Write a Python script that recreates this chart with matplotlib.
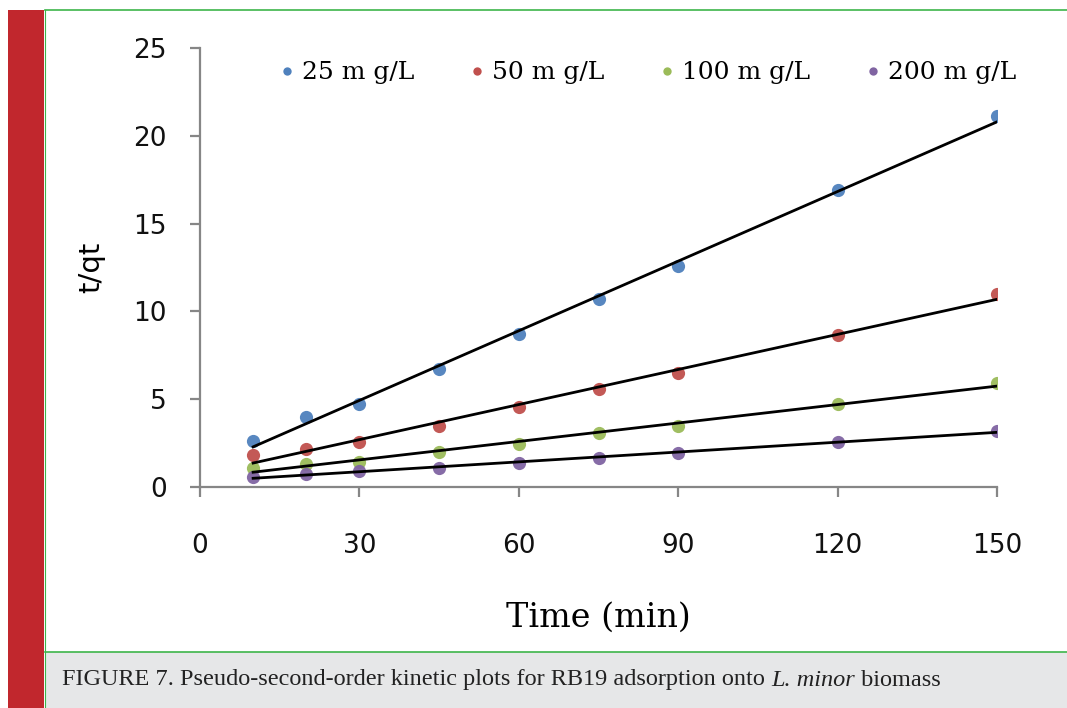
import matplotlib.pyplot as plt
import numpy as np
from matplotlib.patches import Rectangle
from matplotlib.lines import Line2D

# contact time (min)
time_min = [10, 20, 30, 45, 60, 75, 90, 120, 150]

# t/qt values
tq_25 = [2.6, 4.0, 4.7, 6.7, 8.7, 10.7, 12.6, 16.9, 21.1]
tq_50 = [1.8, 2.15, 2.55, 3.45, 4.55, 5.6, 6.5, 8.65, 11.0]
tq_100 = [1.1, 1.3, 1.4, 2.0, 2.45, 3.05, 3.5, 4.75, 5.9]
tq_200 = [0.55, 0.75, 0.9, 1.1, 1.35, 1.65, 1.95, 2.55, 3.2]

labels = ['25 m g/L', '50 m g/L', '100 m g/L', '200 m g/L']
colors = ['#4F81BD', '#C0504D', '#9BBB59', '#8064A2']
x_ticks = [0, 30, 60, 90, 120, 150]
y_ticks = [0, 5, 10, 15, 20, 25]

W, H = 1067, 708
fig = plt.figure(figsize=(W / 100, H / 100), dpi=100, facecolor='white')

# page decorations: red side bar, green rule, grey caption box
fig.patches.append(Rectangle((8 / W, 0), 36 / W, 1 - 10 / H, transform=fig.transFigure,
                             facecolor='#C1272D', edgecolor='none', zorder=0))
fig.add_artist(Line2D([45 / W, 1], [1 - 10 / H, 1 - 10 / H], transform=fig.transFigure,
                      color='#3DB54A', lw=1.2))
fig.add_artist(Line2D([45 / W, 45 / W], [0, 1 - 10 / H], transform=fig.transFigure,
                      color='#3DB54A', lw=0.8))
fig.patches.append(Rectangle((45 / W, 0), 1 - 45 / W, 56 / H, transform=fig.transFigure,
                             facecolor='#E6E7E8', edgecolor='none', zorder=0))
fig.add_artist(Line2D([45 / W, 1], [56 / H, 56 / H], transform=fig.transFigure,
                      color='#3DB54A', lw=1.2))

ax = fig.add_axes([200 / W, 1 - 487 / H, 797 / W, 439 / H])
ax.set_facecolor('none')

series = [tq_25, tq_50, tq_100, tq_200]
xs = np.array(time_min, dtype=float)
handles = []
for ys, c, lab in zip(series, colors, labels):
    ax.plot(xs, ys, 'o', color=c, ms=9.5, mec='none', alpha=0.95, zorder=2)
    # linear trendline as in the original spreadsheet chart
    k, b = np.polyfit(xs, ys, 1)
    xl = np.array([xs[0], xs[-1]])
    ax.plot(xl, k * xl + b, color='black', lw=2.0, zorder=3)
    handles.append(Line2D([], [], marker='o', ls='none', color=c, ms=6, mec='none', label=lab))

ax.set_xlim(0, 150)
ax.set_ylim(0, 25)
ax.set_xticks(x_ticks)
ax.set_yticks(y_ticks)

for s in ['top', 'right']:
    ax.spines[s].set_visible(False)
for s in ['left', 'bottom']:
    ax.spines[s].set_color('#868686')
    ax.spines[s].set_linewidth(1.6)
ax.tick_params(axis='both', direction='out', length=7, width=1.6, color='#868686',
               labelsize=19, labelcolor='#111111')
ax.tick_params(axis='y', pad=17)
ax.tick_params(axis='x', pad=26)

ax.set_xlabel('Time (min)', family='DejaVu Serif', fontsize=24, labelpad=31)
ax.set_ylabel('t/qt', fontsize=21, labelpad=20)

fig.legend(handles=handles, loc='center', bbox_to_anchor=(648 / W, 1 - 73 / H),
           ncol=4, frameon=False, prop={'family': 'DejaVu Serif', 'size': 18},
           handlelength=0.6, handletextpad=0.3, columnspacing=2.2)

# caption with italic species name, pieces laid out one after another
cap_parts = [('FIGURE 7. Pseudo-second-order kinetic plots for RB19 adsorption onto ', 'normal'),
             ('L. minor', 'italic'),
             (' biomass', 'normal')]
renderer = fig.canvas.get_renderer()
x0 = 62
for txt, style in cap_parts:
    t = fig.text(x0 / W, 1 - 680 / H, txt, family='Liberation Serif', style=style,
                 fontsize=17.5, va='center', ha='left', color='#222222')
    x0 = t.get_window_extent(renderer).x1

fig.savefig('out.png', dpi=100, facecolor='white')
